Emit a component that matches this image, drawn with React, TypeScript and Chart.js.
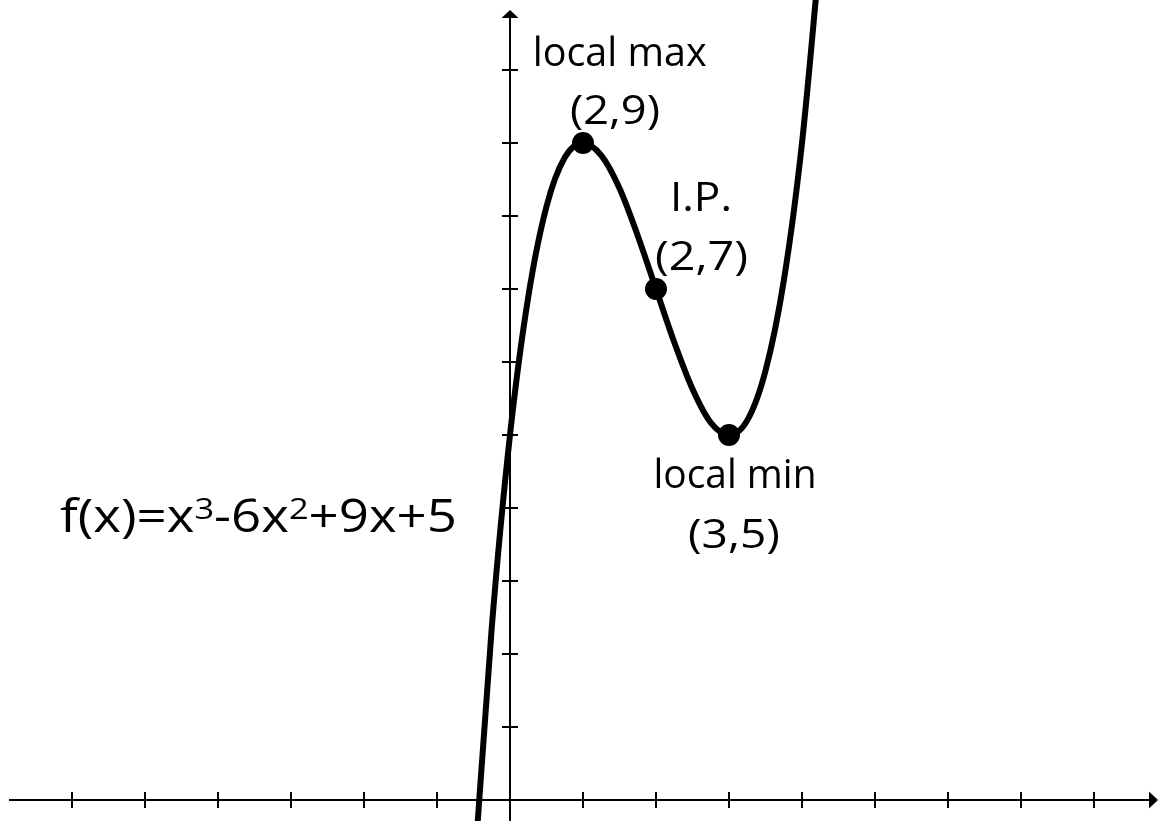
import React, { useEffect, useRef } from 'react';
import { Chart, registerables } from 'chart.js';

Chart.register(...registerables);

// ---- data ----
const curveX = [-0.5, -0.25, 0, 0.25, 0.5, 0.75, 1, 1.25, 1.5, 1.75, 2, 2.25, 2.5, 2.75, 3, 3.25, 3.5, 3.75, 4, 4.25];
const curveY = [-1.13, 2.36, 5, 6.89, 8.13, 8.8, 9, 8.83, 8.38, 7.73, 7, 6.27, 5.63, 5.17, 5, 5.2, 5.88, 7.11, 9, 11.64];

const keyPointX = [1, 2, 3];
const keyPointY = [9, 7, 5];

const xTickValues = [-6, -5, -4, -3, -2, -1, 1, 2, 3, 4, 5, 6, 7, 8];
const yTickValues = [1, 2, 3, 4, 5, 6, 7, 8, 9, 10];

const labelTexts = ['local max', '(2,9)', 'I.P.', '(2,7)', 'local min', '(3,5)'];
const labelX = [1.503, 1.438, 2.616, 2.623, 3.082, 3.068];
const labelY = [10.05, 9.26, 8.07, 7.26, 4.27, 3.45];

const formulaParts = ['f(x)=x', '3', '-6x', '2', '+9x+5'];
const formulaSup = [false, true, false, true, false];
const formulaX = -6.164;
const formulaY = 3.675;

// ---- view ----
const X_MIN = -6.849;
const X_MAX = 8.767;
const Y_MIN = -0.288;
const Y_MAX = 10.726;
const UNIT_PX = 73;
const TICK_HALF = 8 / UNIT_PX;

const FONT = "'Open Sans', 'DejaVu Sans', sans-serif";
const labelWidths = [174, 90, 62, 93, 163, 92];
const FORMULA_WIDTH = 397;

const overlayPlugin = {
  id: 'overlay',
  afterDraw(chart: any) {
    const { ctx, chartArea } = chart;
    const xs = chart.scales.x;
    const ys = chart.scales.y;
    const ox = xs.getPixelForValue(0);
    const oy = ys.getPixelForValue(0);
    ctx.save();
    ctx.fillStyle = '#000';
    // arrow heads
    ctx.beginPath();
    ctx.moveTo(ox, chartArea.top - 7);
    ctx.lineTo(ox - 8.5, chartArea.top + 1);
    ctx.lineTo(ox + 8.5, chartArea.top + 1);
    ctx.closePath();
    ctx.fill();
    ctx.beginPath();
    ctx.moveTo(chartArea.right + 8, oy);
    ctx.lineTo(chartArea.right - 1, oy - 8.5);
    ctx.lineTo(chartArea.right - 1, oy + 8.5);
    ctx.closePath();
    ctx.fill();

    // labels
    ctx.textBaseline = 'alphabetic';
    ctx.textAlign = 'center';
    ctx.font = `41px ${FONT}`;
    labelTexts.forEach((t, i) => {
      const px = xs.getPixelForValue(labelX[i]);
      const py = ys.getPixelForValue(labelY[i]);
      const w = ctx.measureText(t).width;
      ctx.save();
      ctx.translate(px, py);
      ctx.scale(labelWidths[i] / w, 1);
      ctx.fillText(t, 0, 0);
      ctx.restore();
    });

    // formula with superscripts
    const mainFont = `46px ${FONT}`;
    const supFont = `30px ${FONT}`;
    ctx.textAlign = 'left';
    let total = 0;
    const widths = formulaParts.map((p, i) => {
      ctx.font = formulaSup[i] ? supFont : mainFont;
      const w = ctx.measureText(p).width;
      total += w;
      return w;
    });
    const sx = FORMULA_WIDTH / total;
    const fx = xs.getPixelForValue(formulaX);
    const fy = ys.getPixelForValue(formulaY);
    ctx.save();
    ctx.translate(fx, fy);
    ctx.scale(sx, 1);
    let cx = 0;
    formulaParts.forEach((p, i) => {
      ctx.font = formulaSup[i] ? supFont : mainFont;
      ctx.fillText(p, cx, formulaSup[i] ? -13 : 0);
      cx += widths[i];
    });
    ctx.restore();
    ctx.restore();
  },
};

export default function App() {
  const ref = useRef<HTMLCanvasElement | null>(null);

  useEffect(() => {
    document.body.style.margin = '0';
    const canvas = ref.current;
    if (!canvas) return;
    const curve = curveX.map((x, i) => ({ x, y: curveY[i] }));
    const keyPoints = keyPointX.map((x, i) => ({ x, y: keyPointY[i] }));

    const tickAxis = (axis: 'x' | 'y', values: number[], position: any, min: number, max: number) => ({
      type: 'linear' as const,
      axis,
      min,
      max,
      position,
      afterBuildTicks: (scale: any) => {
        scale.ticks = values.map((v) => ({ value: v }));
      },
      ticks: { display: false },
      border: { display: false },
      grid: {
        display: true,
        drawOnChartArea: false,
        drawTicks: true,
        tickLength: 16,
        color: '#000',
        lineWidth: 2,
      },
    });

    const chart = new Chart(canvas, {
      type: 'scatter',
      data: {
        datasets: [
          {
            type: 'line',
            data: curve,
            borderColor: '#000',
            borderWidth: 6,
            pointRadius: 0,
            fill: false,
            cubicInterpolationMode: 'monotone',
            clip: false,
            order: 2,
          } as any,
          {
            type: 'scatter',
            data: keyPoints,
            backgroundColor: '#000',
            borderColor: '#000',
            borderWidth: 0,
            pointRadius: 11,
            clip: false,
            order: 1,
          } as any,
        ],
      },
      options: {
        animation: false,
        responsive: false,
        events: [],
        layout: { autoPadding: false, padding: { left: 10, right: 17, top: 17, bottom: 0 } },
        plugins: { legend: { display: false }, tooltip: { enabled: false } },
        scales: {
          x: {
            type: 'linear',
            min: X_MIN,
            max: X_MAX,
            position: { y: 0 } as any,
            ticks: { display: false },
            grid: { display: true, drawOnChartArea: false, drawTicks: false },
            border: { display: true, color: '#000', width: 2 },
          },
          y: {
            type: 'linear',
            min: Y_MIN,
            max: Y_MAX,
            position: { x: 0 } as any,
            ticks: { display: false },
            grid: { display: true, drawOnChartArea: false, drawTicks: false },
            border: { display: true, color: '#000', width: 2 },
          },
          xt: tickAxis('x', xTickValues, { y: TICK_HALF }, X_MIN, X_MAX) as any,
          yt: tickAxis('y', yTickValues, { x: TICK_HALF }, Y_MIN, Y_MAX) as any,
        },
      } as any,
      plugins: [overlayPlugin],
    });
    return () => chart.destroy();
  }, []);

  return (
    <div style={{ width: 1167, height: 821, position: 'relative', background: '#fff' }}>
      <canvas ref={ref} width={1167} height={821} style={{ display: 'block' }} />
    </div>
  );
}
